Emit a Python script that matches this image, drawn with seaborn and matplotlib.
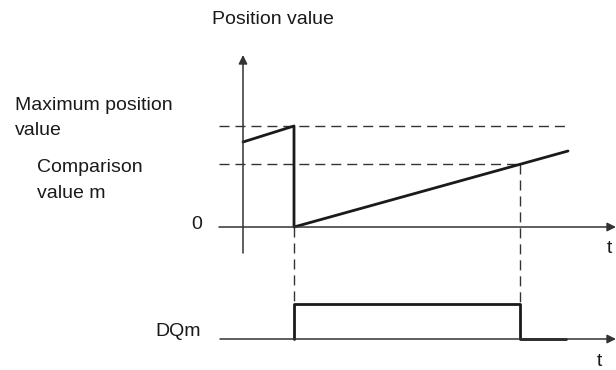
"""Position value / comparison value timing diagram with DQm output."""
import matplotlib
matplotlib.use("Agg")
import matplotlib.pyplot as plt
import pandas as pd
import seaborn as sns

# position value signal (time 0 = axis origin)
pos_time = [0, 51, 51, 325]
pos_value = [85, 101, 0, 76]
max_position = 101
comparison_m = 63
t_reset = 51
t_match = 277

# DQm output (0 = off, 1 = on)
dq_time = [51, 51, 277, 277, 323]
dq_level = [0, 1, 1, 0, 0]

pos_df = pd.DataFrame({"t": pos_time, "value": pos_value})

sns.set_style("white")
plt.rcParams["font.family"] = ["Liberation Sans", "DejaVu Sans"]

fig = plt.figure(figsize=(6.16, 3.70), dpi=100)
ax = fig.add_axes([0, 0, 1, 1])
ax.set_xlim(-243, 373)
ax.set_ylim(-143, 227)
ax.axis("off")

ink = "#1a1a1a"
axis_ink = "#333333"
dq_base, dq_high = -112, 35
dash = (0, (7.2, 4.3))

# axes with arrow heads
arrow = dict(arrowstyle="-|>", lw=1.1, color=axis_ink, mutation_scale=13, shrinkA=0, shrinkB=0)
ax.annotate("", xy=(0, 172), xytext=(0, -26), arrowprops=arrow)
ax.annotate("", xy=(373, 0), xytext=(-24, 0), arrowprops=arrow)
ax.annotate("", xy=(373, dq_base), xytext=(-23, dq_base), arrowprops=arrow)

# dashed reference lines
ax.plot([-24, 324], [max_position, max_position], color=axis_ink, lw=1.0, ls=dash)
ax.plot([-24, t_match], [comparison_m, comparison_m], color=axis_ink, lw=1.0, ls=dash)
ax.plot([t_reset, t_reset], [0, dq_base + dq_high], color=axis_ink, lw=1.0, ls=dash)
ax.plot([t_match, t_match], [comparison_m, dq_base + dq_high], color=axis_ink, lw=1.0, ls=dash)

# position value
sns.lineplot(data=pos_df, x="t", y="value", sort=False, estimator=None,
             color=ink, lw=2.0, ax=ax)

# DQm
dq_df = pd.DataFrame({"t": dq_time, "y": [dq_base + dq_high * v for v in dq_level]})
sns.lineplot(data=dq_df, x="t", y="y", sort=False, estimator=None,
             color=ink, lw=2.0, ax=ax)

fs = 14
dy = 2  # small nudge so text sits like the reference
ax.text(212 - 243, 227 - 17 - dy, "Position value", fontsize=fs, va="center", ha="left", color=ink)
ax.text(15 - 243, 227 - 104 - dy, "Maximum position", fontsize=fs, va="center", ha="left", color=ink)
ax.text(15 - 243, 227 - 129 - dy, "value", fontsize=fs, va="center", ha="left", color=ink)
ax.text(37 - 243, 227 - 166 - dy, "Comparison", fontsize=fs, va="center", ha="left", color=ink)
ax.text(37 - 243, 227 - 192 - dy, "value m", fontsize=fs, va="center", ha="left", color=ink)
ax.text(197 - 243, 227 - 223 - dy, "0", fontsize=fs, va="center", ha="center", color=ink)
ax.text(609 - 243, 227 - 247 - dy, "t", fontsize=fs, va="center", ha="center", color=ink)
ax.text(155 - 243, 227 - 330 - dy, "DQm", fontsize=fs, va="center", ha="left", color=ink)
ax.text(599 - 243, 227 - 360 - dy, "t", fontsize=fs, va="center", ha="center", color=ink)

fig.savefig("out.png", dpi=100)
plt.close(fig)
